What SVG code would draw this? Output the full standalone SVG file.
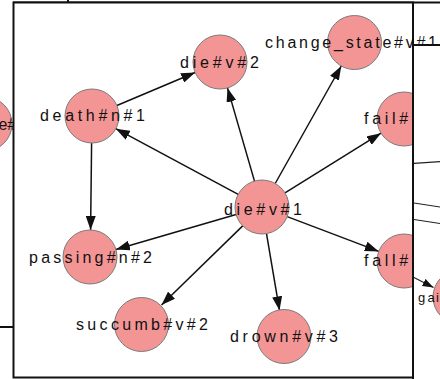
<svg xmlns="http://www.w3.org/2000/svg" width="440" height="379" viewBox="0 0 440 379">
  <style>
    .frame { fill: #ffffff; stroke: #111111; stroke-width: 2; }
    .rule { stroke: #111111; stroke-width: 2; fill: none; }
    .node circle { fill: #f49595; stroke: #7a7a7a; stroke-width: 1; }
    .node text { font-family: "Liberation Sans", Arial, sans-serif; font-size: 16px; fill: #111111; }
    .edge { stroke: #111111; stroke-width: 1.5; fill: none; marker-end: url(#arrow); }
    .thin { stroke: #222222; stroke-width: 1.2; fill: none; }
  </style>
  <defs>
    <marker id="arrow" markerUnits="userSpaceOnUse" markerWidth="15" markerHeight="10" refX="14" refY="5" orient="auto">
      <path d="M0,0 L14,5 L0,10 Z" fill="#111111"/>
    </marker>
    <marker id="arrow-small" markerUnits="userSpaceOnUse" markerWidth="12" markerHeight="9" refX="11" refY="4" orient="auto">
      <path d="M0,0 L11,4 L0,8 Z" fill="#111111"/>
    </marker>
  </defs>

  <rect width="440" height="379" fill="#ffffff"/>

  <!-- neighbouring window on the left -->
  <g id="node-left-partial" class="node">
    <circle cx="-15" cy="124" r="27"/>
    <text x="-1.5 7.3" y="129.5">e#</text>
  </g>
  <line class="rule" x1="0" y1="327" x2="14" y2="327"/>
  <line class="rule" x1="68" y1="0" x2="68" y2="3"/>
  <line class="rule" x1="13" y1="2.5" x2="440" y2="2.5"/>

  <!-- main graph window -->
  <rect class="frame" x="13.5" y="2.5" width="399.5" height="375"/>

  <g id="connectors">
    <line class="edge" x1="238.2" y1="194.3" x2="115.8" y2="128.7"/>
    <line class="edge" x1="254.5" y1="181.1" x2="227.5" y2="87.9"/>
    <line class="edge" x1="275.2" y1="183.5" x2="341.3" y2="66.0"/>
    <line class="edge" x1="285.0" y1="192.8" x2="381.0" y2="133.2"/>
    <line class="edge" x1="287.2" y1="216.6" x2="378.8" y2="251.4"/>
    <line class="edge" x1="266.5" y1="233.6" x2="279.5" y2="310.4"/>
    <line class="edge" x1="242.7" y1="225.9" x2="161.5" y2="305.0"/>
    <line class="edge" x1="236.1" y1="214.5" x2="115.9" y2="249.5"/>
    <line class="edge" x1="116.9" y1="105.5" x2="195.1" y2="72.5"/>
    <line class="edge" x1="91.6" y1="143" x2="90.6" y2="230"/>
  </g>

  <g id="node-death-n-1" class="node">
    <circle cx="92" cy="116" r="27"/>
    <text x="40" y="121" textLength="105" lengthAdjust="spacing">death#n#1</text>
  </g>
  <g id="node-die-v-2" class="node">
    <circle cx="220" cy="62" r="27"/>
    <text x="180" y="67.5" textLength="79" lengthAdjust="spacing">die#v#2</text>
  </g>
  <g id="node-change-state-v-1" class="node">
    <circle cx="354.5" cy="42.5" r="27"/>
    <text x="265" y="47.5" textLength="172" lengthAdjust="spacing">change_state#v#1</text>
  </g>
  <g id="node-fail" class="node">
    <circle cx="404" cy="119" r="27"/>
    <text x="364" y="124" textLength="56" lengthAdjust="spacing">fail#v</text>
  </g>
  <g id="node-die-v-1" class="node">
    <circle cx="262" cy="207" r="27"/>
    <text x="224" y="215" textLength="78" lengthAdjust="spacing">die#v#1</text>
  </g>
  <g id="node-fall" class="node">
    <circle cx="404" cy="261" r="27"/>
    <text x="364" y="266" textLength="56" lengthAdjust="spacing">fall#v</text>
  </g>
  <g id="node-passing-n-2" class="node">
    <circle cx="90" cy="257" r="27"/>
    <text x="29" y="263" textLength="123" lengthAdjust="spacing">passing#n#2</text>
  </g>
  <g id="node-succumb-v-2" class="node">
    <circle cx="141.5" cy="324.5" r="27"/>
    <text x="76" y="330" textLength="132" lengthAdjust="spacing">succumb#v#2</text>
  </g>
  <g id="node-drown-v-3" class="node">
    <circle cx="284" cy="336.5" r="27"/>
    <text x="230" y="342" textLength="108" lengthAdjust="spacing">drown#v#3</text>
  </g>

  <!-- neighbouring window on the right -->
  <rect class="frame" x="413" y="45" width="40" height="400"/>
  <g id="right-connectors">
    <line class="thin" x1="414" y1="163.3" x2="440" y2="161.7"/>
    <line class="thin" x1="414" y1="203" x2="440" y2="207"/>
    <line class="thin" x1="414" y1="219.5" x2="440" y2="223.5"/>
    <line class="thin" x1="414" y1="277.5" x2="433.5" y2="287.5" marker-end="url(#arrow-small)"/>
  </g>
  <g id="node-gai" class="node">
    <circle cx="460" cy="297" r="27"/>
    <text x="418 427.5 436" y="302" style="font-size:13px">gai</text>
  </g>
</svg>
